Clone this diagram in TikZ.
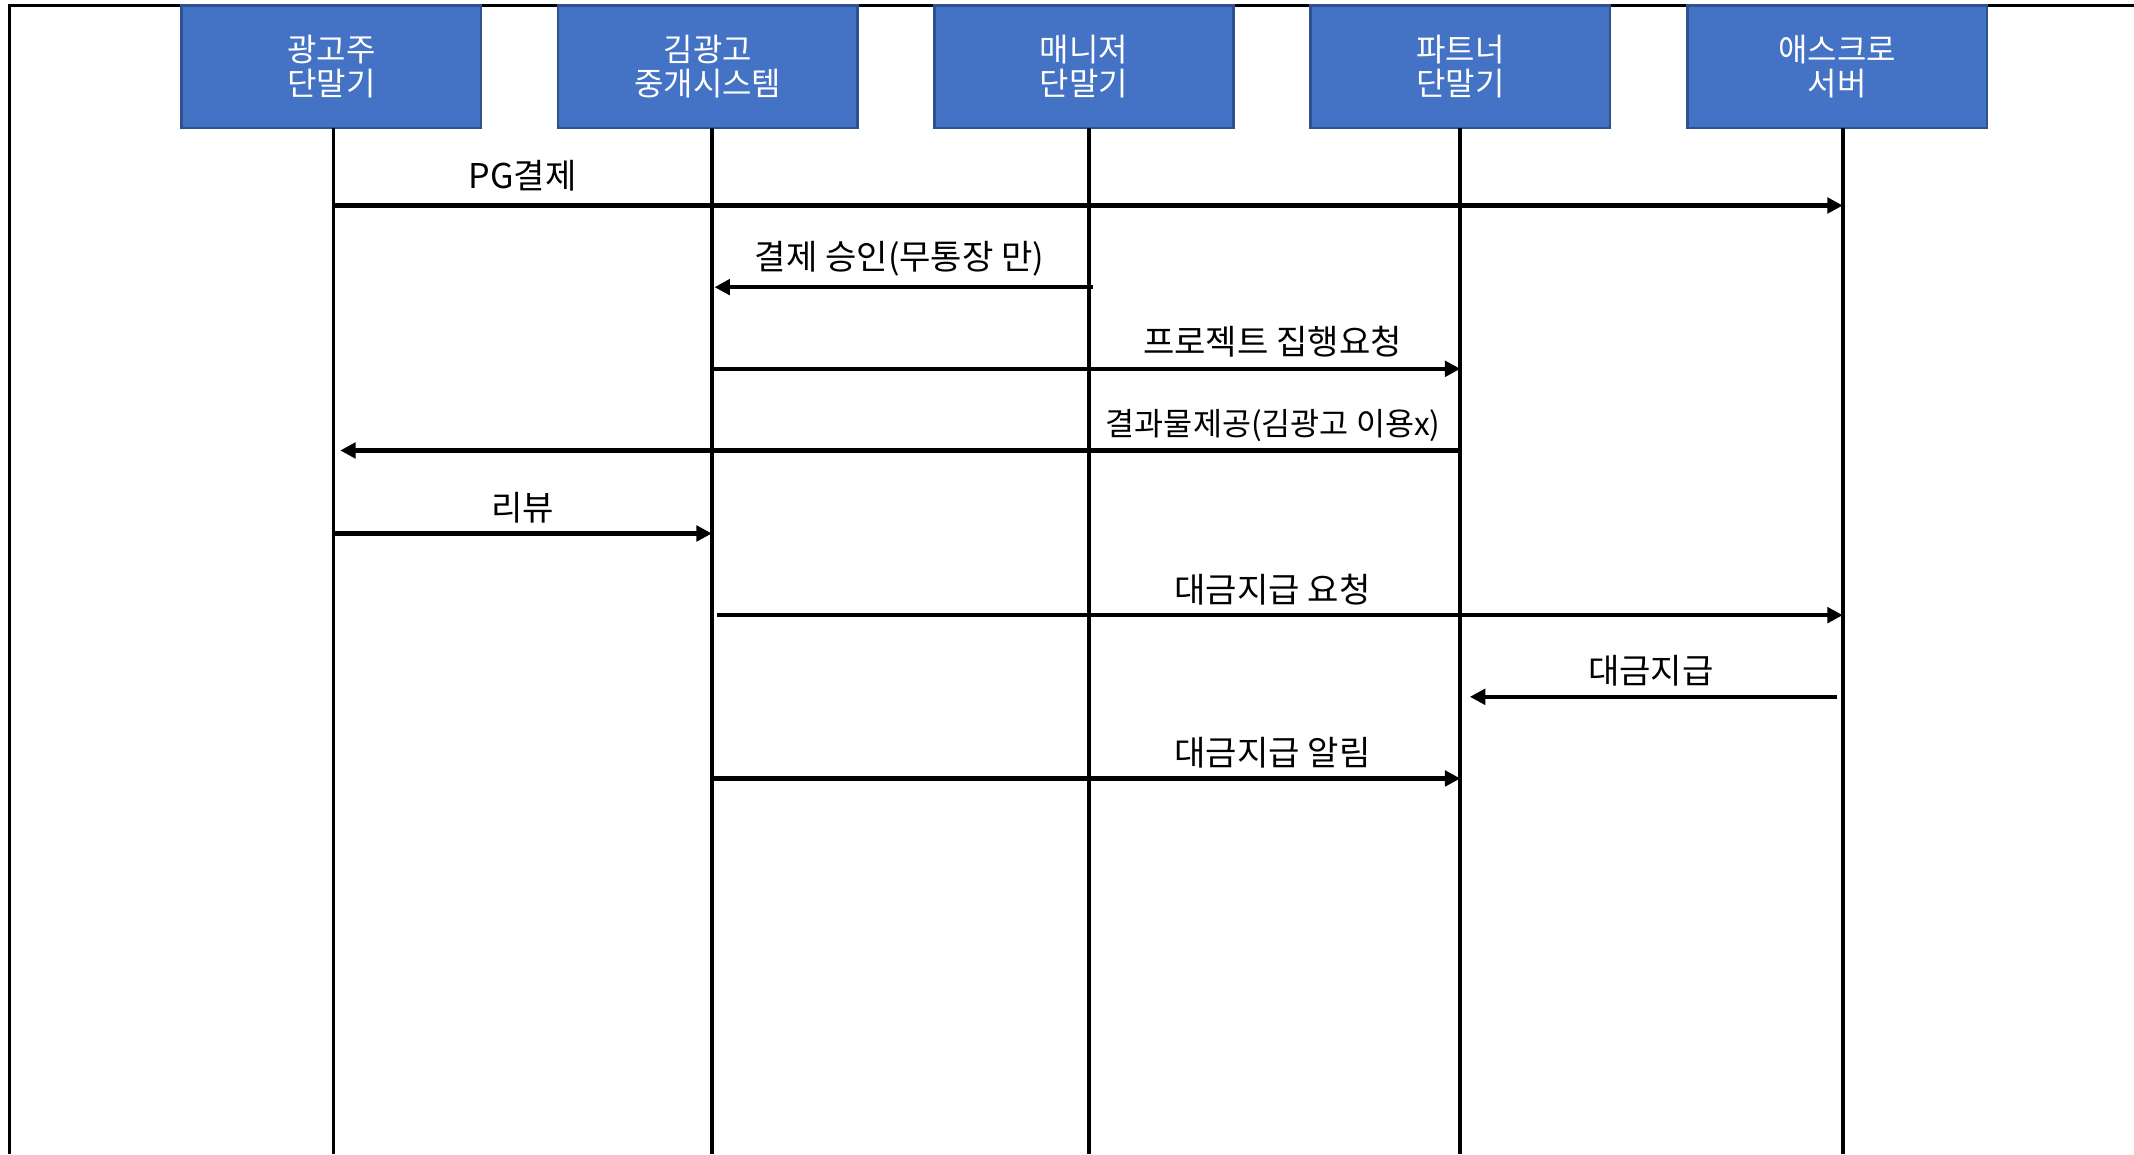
\documentclass[tikz,border=0pt]{standalone}
\usepackage{fontspec}
\setmainfont{Noto Sans CJK KR}
\usetikzlibrary{arrows.meta}
\definecolor{boxfill}{HTML}{4472C4}
\definecolor{boxline}{HTML}{2F528F}
\tikzset{
  actor/.style={draw=boxline, line width=1.4pt, fill=boxfill, text=white,
    minimum width=165pt, minimum height=67.5pt, inner sep=0pt, align=center,
    font=\fontsize{17.6}{18.8}\selectfont},
  lifeline/.style={line width=2.1pt, black},
  msg/.style={line width=2.5pt, black, -{Triangle[length=8.5pt,width=8.5pt]}},
  msglabel/.style={inner sep=0pt, font=\fontsize{18.8}{20}\selectfont},
  frame/.style={line width=1.6pt, black}
}
\begin{document}
\begin{tikzpicture}[x=0.75pt,y=-0.75pt]
\useasboundingbox (0,0) rectangle (1568,848);
% frame
\coordinate (fl) at (7,848);
\coordinate (ftl) at (7,4);
\coordinate (ftr) at (1568,4);
\draw[frame] (fl) -- (ftl) -- (ftr);
% actors
\node[actor] (b1) at (243.5,49) {광고주\\단말기};
\node[actor] (b2) at (520,49) {김광고\\중개시스템};
\node[actor] (b3) at (796.5,49) {매니저\\단말기};
\node[actor] (b4) at (1073,49) {파트너\\단말기};
\node[actor] (b5) at (1350,49) {애스크로\\서버};
% lifelines
\coordinate (t1) at (245,94);  \coordinate (e1) at (245,848);
\coordinate (t2) at (523,94);  \coordinate (e2) at (523,848);
\coordinate (t3) at (800,94);  \coordinate (e3) at (800,848);
\coordinate (t4) at (1073,94); \coordinate (e4) at (1073,848);
\coordinate (t5) at (1354,94); \coordinate (e5) at (1354,848);
\foreach \i in {1,...,5} \draw[lifeline] (t\i) -- (e\i);
% messages
\coordinate (m1a) at (245,151);  \coordinate (m1b) at (1354,151);
\coordinate (m2a) at (803,211);  \coordinate (m2b) at (525,211);
\coordinate (m3a) at (523,271);  \coordinate (m3b) at (1073,271);
\coordinate (m4a) at (1073,331); \coordinate (m4b) at (250,331);
\coordinate (m5a) at (245,392);  \coordinate (m5b) at (523,392);
\coordinate (m6a) at (527,452);  \coordinate (m6b) at (1354,452);
\coordinate (m7a) at (1350,512); \coordinate (m7b) at (1080,512);
\coordinate (m8a) at (523,572);  \coordinate (m8b) at (1073,572);
\foreach \i in {1,...,8} \draw[msg] (m\i a) -- (m\i b);
% labels
\node[msglabel] (l1) at (384,129) {PG결제};
\node[msglabel] (l2) at (661,190) {결제 승인(무통장 만)};
\node[msglabel] (l3) at (935,251) {프로젝트 집행요청};
\node[msglabel, font=\fontsize{17.4}{20}\selectfont] (l4) at (935.5,313) {결과물제공(김광고 이용x)};
\node[msglabel] (l5) at (384,373) {리뷰};
\node[msglabel] (l6) at (935,433) {대금지급 요청};
\node[msglabel] (l7) at (1213,493) {대금지급};
\node[msglabel] (l8) at (935,553) {대금지급 알림};
\end{tikzpicture}
\end{document}
